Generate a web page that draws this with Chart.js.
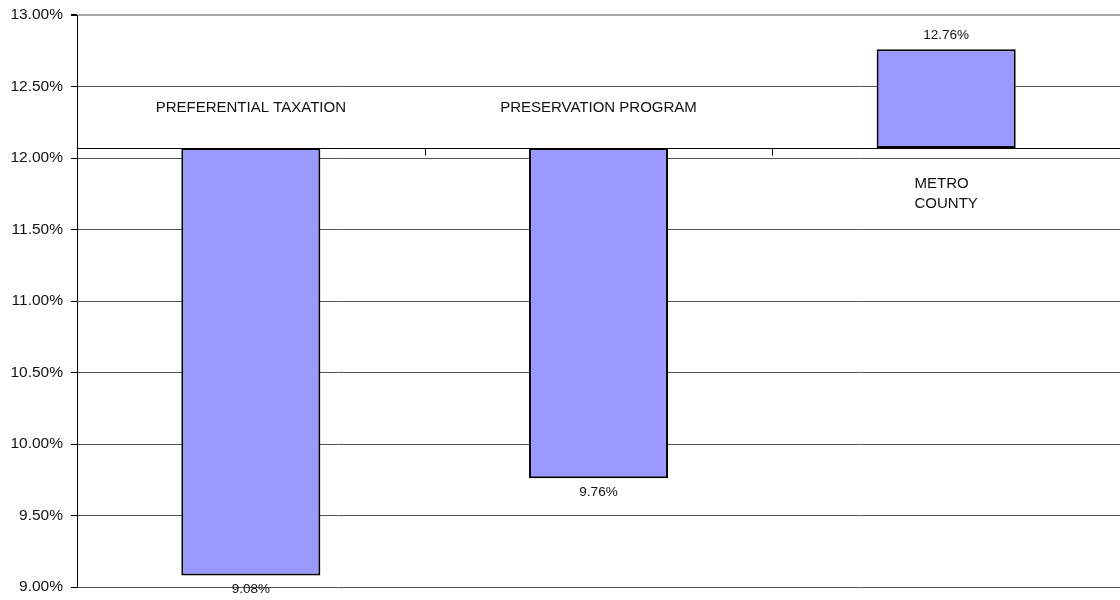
<!DOCTYPE html>
<html lang="en">
<head>
    <meta charset="UTF-8">
    <title>Taux comparés</title>
    <style>
        body {
            margin: 0;
            padding: 0;
            background: #fff;
        }
        #chartContainer {
            width: 1120px;
            height: 600px;
        }
    </style>
</head>
<body>
    <div id="chartContainer">
        <canvas id="rateChart"></canvas>
    </div>

    <script src="https://cdn.jsdelivr.net/npm/chart.js"></script>
    <script>
        // Données
        const categories = [['PREFERENTIAL TAXATION'], ['PRESERVATION PROGRAM'], ['METRO', 'COUNTY']];
        const rates = [9.08, 9.76, 12.76];
        const crossAt = 12.07; // l'axe des catégories croise ici
        const yTicks = [9.0, 9.5, 10.0, 10.5, 11.0, 11.5, 12.0, 12.5, 13.0];

        const FONT = 'Arial, "Liberation Sans", sans-serif';

        // Barres flottantes entre l'axe et la valeur
        const floating = rates.map(v => [crossAt, v]);

        // Axe des catégories, étiquettes de catégories et valeurs
        const crossAxisPlugin = {
            id: 'crossAxis',
            afterDatasetsDraw(chart) {
                const ctx = chart.ctx;
                const x = chart.scales.x;
                const y = chart.scales.y;
                const area = chart.chartArea;
                const yc = Math.round(y.getPixelForValue(crossAt)) + 0.5;

                ctx.save();
                ctx.strokeStyle = '#000';
                ctx.lineWidth = 1;
                ctx.beginPath();
                ctx.moveTo(area.left, yc);
                ctx.lineTo(area.right, yc);
                // petites graduations entre les catégories
                for (let i = 1; i < categories.length; i++) {
                    const px = Math.round((x.getPixelForValue(i - 1) + x.getPixelForValue(i)) / 2) + 0.5;
                    ctx.moveTo(px, yc);
                    ctx.lineTo(px, yc + 7);
                }
                ctx.stroke();

                ctx.fillStyle = '#111';
                ctx.textBaseline = 'middle';

                rates.forEach((v, i) => {
                    const cx = x.getPixelForValue(i);
                    const py = y.getPixelForValue(v);
                    const below = v < crossAt;

                    // valeur au bout de la barre
                    ctx.font = '13.5px ' + FONT;
                    ctx.textAlign = 'center';
                    ctx.fillText(v.toFixed(2) + '%', cx, below ? py + 14 : py - 14);

                    // nom de la catégorie de l'autre côté de l'axe
                    ctx.font = '15px ' + FONT;
                    const lines = categories[i];
                    const w = Math.max(...lines.map(l => ctx.measureText(l).width));
                    ctx.textAlign = 'left';
                    lines.forEach((l, k) => {
                        const ly = below ? yc - 41 - (lines.length - 1 - k) * 20 : yc + 35 + k * 20;
                        ctx.fillText(l, cx - w / 2, ly);
                    });
                });
                ctx.restore();
            }
        };

        new Chart(document.getElementById('rateChart').getContext('2d'), {
            type: 'bar',
            data: {
                labels: categories,
                datasets: [{
                    data: floating,
                    backgroundColor: '#9999FF',
                    borderColor: '#000',
                    borderWidth: 2,
                    borderSkipped: false,
                    categoryPercentage: 1.0,
                    barPercentage: 0.4
                }]
            },
            options: {
                responsive: true,
                maintainAspectRatio: false,
                animation: false,
                layout: {
                    padding: { top: 15, bottom: 13, left: 0, right: 0 }
                },
                plugins: {
                    legend: { display: false },
                    tooltip: { enabled: false }
                },
                scales: {
                    x: {
                        display: false,
                        offset: true
                    },
                    y: {
                        min: 9,
                        max: 13,
                        afterBuildTicks(scale) {
                            scale.ticks = yTicks.map(v => ({ value: v }));
                        },
                        afterFit(scale) {
                            scale.width = 77;
                            scale.paddingTop = 0;
                            scale.paddingBottom = 0;
                        },
                        border: { display: true, color: '#000', width: 1 },
                        grid: {
                            color: ctx => ctx.tick && ctx.tick.value === 13 ? '#aaa' : '#555',
                            lineWidth: ctx => ctx.tick && ctx.tick.value === 13 ? 2 : 1,
                            tickColor: '#000',
                            tickLength: 6
                        },
                        ticks: {
                            color: '#111',
                            padding: 8,
                            font: { family: FONT, size: 15.5 },
                            callback: v => Number(v).toFixed(2) + '%'
                        }
                    }
                }
            },
            plugins: [crossAxisPlugin]
        });
    </script>
</body>
</html>
